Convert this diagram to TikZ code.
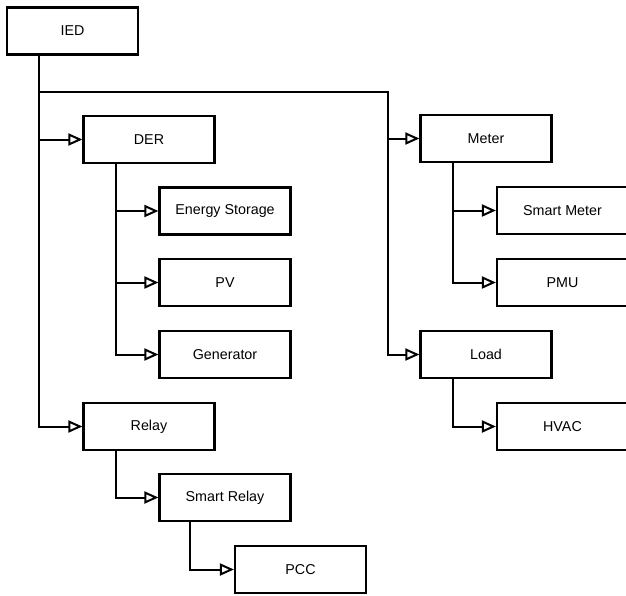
\documentclass[tikz,border=0pt]{standalone}
\usepackage{fontspec}
\setmainfont{Liberation Sans}
\usepackage{tikz}
\usetikzlibrary{arrows.meta,calc}
\tikzset{
  blk/.style={draw=black, line width=2.2pt, fill=white, minimum width=131pt, minimum height=47pt, inner sep=0pt, font=\fontsize{14.3}{16}\selectfont},
}

\begin{document}
\begin{tikzpicture}[x=1pt, y=-1pt,
  wire/.style={line width=2pt, black},
  feed/.style={wire, -{Triangle[length=14pt, width=12pt, fill=white, line width=2pt]}}]
\useasboundingbox (0,0) rectangle (626,595);
% left half
\node[blk] (ied) at (72.5,31) {IED};
\node[blk] (der) at (149,139.5) {DER};
\node[blk] (stor) at (225,211) {Energy Storage};
\node[blk] (pv) at (225,282.5) {PV};
\node[blk] (gen) at (225,354.5) {Generator};
\node[blk] (relay) at (149,426.5) {Relay};
\node[blk] (srel) at (225,497.5) {Smart Relay};
\node[blk] (pcc) at (300.5,569.5) {PCC};
% right half
\node[blk] (meter) at (486,138.5) {Meter};
\node[blk] (smet) at (562.5,210.5) {Smart Meter};
\node[blk] (pmu) at (562.5,282.5) {PMU};
\node[blk] (load) at (486,354.5) {Load};
\node[blk] (hvac) at (562.5,426.5) {HVAC};
% junctions
\coordinate (tI) at ([xshift=33pt]ied.south west);
\coordinate (hub) at (388,92);
\coordinate (tD) at ([xshift=34pt]der.south west);
\coordinate (tR) at ([xshift=34pt]relay.south west);
\coordinate (tS) at ([xshift=32pt]srel.south west);
\coordinate (tM) at ([xshift=34pt]meter.south west);
\coordinate (tL) at ([xshift=34pt]load.south west);
\draw[feed] (tI) |- (relay.west);
\draw[feed] (tI |- der.west) -- (der.west);
\draw[feed] (tI |- hub) -- (hub) |- (load.west);
\draw[feed] (hub |- meter.west) -- (meter.west);
\draw[feed] (tD) |- (gen.west);
\draw[feed] (tD |- stor.west) -- (stor.west);
\draw[feed] (tD |- pv.west) -- (pv.west);
\draw[feed] (tR) |- (srel.west);
\draw[feed] (tS) |- (pcc.west);
\draw[feed] (tM) |- (pmu.west);
\draw[feed] (tM |- smet.west) -- (smet.west);
\draw[feed] (tL) |- (hvac.west);
\end{tikzpicture}
\end{document}
